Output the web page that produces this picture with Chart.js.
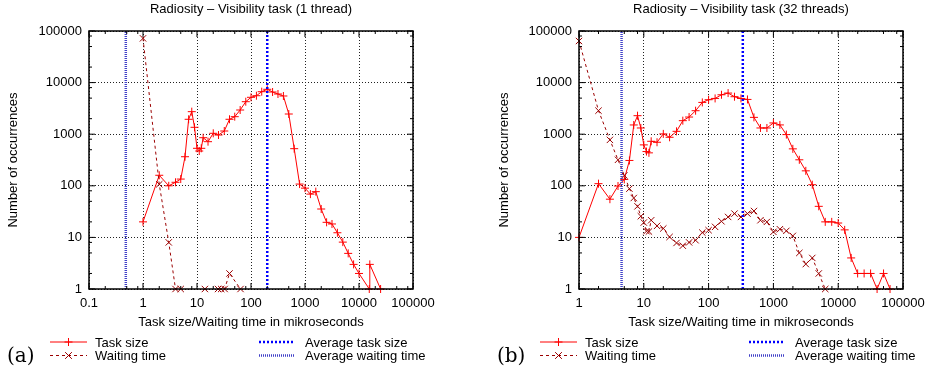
<!DOCTYPE html>
<html>
<head>
<meta charset="utf-8">
<script src="https://cdn.jsdelivr.net/npm/chart.js@4.4.1/dist/chart.umd.min.js"></script>
<style>
  html, body { margin: 0; padding: 0; background: #fff; }
  #wrap { position: relative; width: 935px; height: 376px; overflow: hidden; }
  canvas { position: absolute; top: 0; }
</style>
</head>
<body>
<div id="wrap">
  <canvas id="chartA" width="467" height="376" style="left:0"></canvas>
  <canvas id="chartB" width="468" height="376" style="left:467px"></canvas>
</div>
<script>
// ---- data ----
const titleA = 'Radiosity – Visibility task (1 thread)';
const titleB = 'Radiosity – Visibility task (32 threads)';
const xLabel = 'Task size/Waiting time in mikroseconds';
const yLabel = 'Number of occurrences';
const legendLabels = ['Task size', 'Waiting time', 'Average task size', 'Average waiting time'];

const xTicksA = [0.1, 1, 10, 100, 1000, 10000, 100000];
const xTicksB = [1, 10, 100, 1000, 10000, 100000];
const yTicks = [1, 10, 100, 1000, 10000, 100000];

// (a) 1 thread
const taskA_x = [1, 2, 3, 4, 5, 6, 7, 8, 9, 10, 11, 12, 13, 16, 20, 25, 32, 40, 50, 63, 80, 100,
  126, 158, 200, 251, 316, 398, 501, 631, 794, 1000, 1259, 1585, 1995, 2512, 3162, 3981, 5012,
  6310, 7943, 10000, 15500, 15849, 25119];
const taskA_y = [20, 160, 100, 117, 135, 366, 1945, 2733, 1360, 533, 472, 533, 855, 716, 1041, 964,
  1153, 1945, 2186, 2944, 4265, 5188, 5572, 6665, 7415, 6571, 6012, 5500, 2462, 524, 108, 90, 69,
  77, 35.5, 19.6, 18.2, 12.3, 8.1, 4.9, 3, 2, 1, 3, 1];
const waitA_x = [1, 2, 3, 4, 5, 8, 14, 20, 24.5, 28, 32.5, 40, 64];
const waitA_y = [72000, 107, 8, 1, 1, null, 1, null, 1, 1, 1, 2, 1];
const avgTaskA = 200;
const avgWaitA = 0.48;

// (b) 32 threads
const taskB_x = [1, 2, 3, 4, 5, 6, 7, 8, 9, 10, 11, 12, 13, 16, 20, 25, 32, 40, 50, 63, 80, 100,
  126, 158, 200, 251, 316, 398, 501, 631, 794, 1000, 1259, 1585, 1995, 2512, 3162, 3981, 5012,
  6310, 7943, 10000, 12589, 15849, 19953, 25119, 31623, 39811, 50119, 63096];
const taskB_y = [10, 110, 55, 99, 133, 310, 1510, 2285, 1320, 621, 461, 435, 729, 698, 1014, 871,
  1137, 1830, 2150, 2853, 4130, 4656, 4933, 5810, 6266, 5327, 4933, 4720, 2120, 1320, 1320, 1652,
  1512, 982, 520, 319, 195, 105, 40, 20, 20, 19, 14, 4, 2, 2, 2, 1, 2, 1];
const waitB_x = [1, 2, 3, 4, 5, 6, 7, 8, 9, 10, 11, 12, 13, 16, 20, 25, 32, 40, 50, 63, 80, 100,
  126, 158, 200, 251, 316, 398, 501, 631, 794, 1000, 1259, 1585, 1995, 2512, 3162, 3981, 5012, 6310];
const waitB_y = [64000, 2857, 776, 319, 159, 88, 58, 40, 25.7, 19.4, 13.2, 13, 21.5, 16.7, 14.9,
  10.2, 7.8, 6.9, 8, 8.8, 12.4, 13.8, 16, 20.5, 24.9, 28.9, 24.9, 28.9, 32.5, 21.5, 20, 12.8, 14.4,
  13.4, 10.7, 5, 3.04, 4, 2, 1];
const avgTaskB = 337;
const avgWaitB = 4.54;

// ---- styling ----
const FONT = "'Liberation Sans', Arial, Helvetica, sans-serif";
const styles = [
  { color: '#ff0000', width: 1, dash: [], marker: 'cross', r: 4 },
  { color: '#9b0000', width: 1, dash: [3, 3], marker: 'crossRot', r: 4.5 },
  { color: '#0000ff', width: 2.5, dash: [2, 2], marker: null },
  { color: '#4040c8', width: 2.5, dash: [1, 1], marker: null }
];

function pts(xs, ys) {
  return xs.map((x, i) => ({ x: x, y: ys[i] }));
}

function drawMarker(ctx, kind, x, y, r) {
  ctx.setLineDash([]);
  ctx.beginPath();
  if (kind === 'cross') {
    ctx.moveTo(x - r, y); ctx.lineTo(x + r, y);
    ctx.moveTo(x, y - r); ctx.lineTo(x, y + r);
  } else {
    const d = r * 0.75;
    ctx.moveTo(x - d, y - d); ctx.lineTo(x + d, y + d);
    ctx.moveTo(x - d, y + d); ctx.lineTo(x + d, y - d);
  }
  ctx.stroke();
}

// gnuplot style box with inward tics
const framePlugin = {
  id: 'frame',
  afterDatasetsDraw(chart) {
    const { ctx, chartArea: a, scales } = chart;
    const minors = [2, 5, 8];
    ctx.save();
    ctx.strokeStyle = '#000';
    ctx.lineWidth = 1;
    ctx.setLineDash([]);
    ctx.beginPath();
    ['x', 'y'].forEach(id => {
      const s = scales[id];
      for (let e = Math.round(Math.log10(s.min)); Math.pow(10, e) <= s.max * 1.0001; e++) {
        const d = Math.pow(10, e);
        const list = [[d, 6]];
        minors.forEach(m => { if (m * d < s.max) list.push([m * d, 3]); });
        list.forEach(([v, len]) => {
          const p = s.getPixelForValue(v);
          if (id === 'x') {
            ctx.moveTo(p, a.bottom); ctx.lineTo(p, a.bottom - len);
            ctx.moveTo(p, a.top); ctx.lineTo(p, a.top + len);
          } else {
            ctx.moveTo(a.left, p); ctx.lineTo(a.left + len, p);
            ctx.moveTo(a.right, p); ctx.lineTo(a.right - len, p);
          }
        });
      }
    });
    ctx.stroke();
    ctx.lineWidth = 1.5;
    ctx.strokeRect(a.left, a.top, a.right - a.left, a.bottom - a.top);
    ctx.restore();
  }
};

// two-column legend under the axis title plus the (a)/(b) tag
const legendPlugin = {
  id: 'panelLegend',
  afterDraw(chart, args, opts) {
    const { ctx, chartArea: a } = chart;
    const rows = [342, 355.5];
    const cols = [
      { x0: a.left - 39, x1: a.left - 2, tx: a.left + 6 },
      { x0: a.left + 170, x1: a.left + 205, tx: a.left + 216 }
    ];
    ctx.save();
    legendLabels.forEach((label, i) => {
      const c = cols[Math.floor(i / 2)];
      const y = rows[i % 2];
      const st = styles[i];
      ctx.strokeStyle = st.color;
      ctx.lineWidth = st.width;
      ctx.setLineDash(st.dash);
      ctx.beginPath();
      ctx.moveTo(c.x0, y); ctx.lineTo(c.x1, y);
      ctx.stroke();
      if (st.marker) {
        ctx.lineWidth = 1;
        drawMarker(ctx, st.marker, (c.x0 + c.x1) / 2, y, st.r);
      }
      ctx.fillStyle = '#000';
      ctx.font = '13px ' + FONT;
      ctx.textBaseline = 'middle';
      ctx.textAlign = 'left';
      ctx.fillText(label, c.tx, y + 1);
    });
    ctx.font = "20px 'DejaVu Serif', serif";
    ctx.textBaseline = 'middle';
    ctx.fillText(opts.tag, a.left - 82, 357);
    ctx.restore();
  }
};

function makePanel(id, cfg) {
  const ds = [
    { data: pts(cfg.taskX, cfg.taskY), s: styles[0] },
    { data: pts(cfg.waitX, cfg.waitY), s: styles[1] },
    { data: [{ x: cfg.avgTask, y: 1 }, { x: cfg.avgTask, y: 100000 }], s: styles[2] },
    { data: [{ x: cfg.avgWait, y: 1 }, { x: cfg.avgWait, y: 100000 }], s: styles[3] }
  ].map((d, i) => ({
    label: legendLabels[i],
    data: d.data,
    borderColor: d.s.color,
    borderWidth: d.s.width,
    borderDash: d.s.dash,
    pointStyle: d.s.marker || false,
    pointRadius: d.s.marker ? d.s.r : 0,
    pointBorderColor: d.s.color,
    pointBorderWidth: 1,
    backgroundColor: d.s.color,
    fill: false,
    tension: 0,
    spanGaps: false,
    clip: false,
    order: i < 2 ? 2 - i : 0
  }));

  const tickFont = { family: FONT, size: 13 };
  return new Chart(document.getElementById(id), {
    type: 'line',
    data: { datasets: ds },
    options: {
      responsive: false,
      animation: false,
      events: [],
      layout: { padding: { left: 0, right: cfg.padRight, top: 0, bottom: 0 } },
      plugins: {
        legend: { display: false },
        tooltip: { enabled: false },
        title: {
          display: true,
          text: cfg.title,
          fullSize: false,
          color: '#000',
          font: { family: FONT, size: 13, weight: 'normal' },
          padding: { top: 2, bottom: 13.4 }
        },
        panelLegend: { tag: cfg.tag }
      },
      scales: {
        x: {
          type: 'logarithmic',
          min: cfg.xTicks[0],
          max: 100000,
          afterBuildTicks: s => { s.ticks = cfg.xTicks.map(v => ({ value: v })); },
          afterFit: s => { s.height = 87; },
          ticks: {
            font: tickFont, color: '#000', padding: 7,
            maxRotation: 0, autoSkip: false,
            callback: v => String(v)
          },
          grid: { color: '#222', lineWidth: 1, drawTicks: false, tickLength: 0, borderDash: [1, 2] },
          border: { display: false, dash: [1, 2] },
          title: {
            display: true, text: xLabel, color: '#000',
            font: { family: FONT, size: 13 },
            padding: { top: 0, bottom: 46 }
          }
        },
        y: {
          type: 'logarithmic',
          min: 1,
          max: 100000,
          afterBuildTicks: s => { s.ticks = yTicks.map(v => ({ value: v })); },
          afterFit: s => { s.width = cfg.yWidth; },
          ticks: {
            font: tickFont, color: '#000', padding: 7,
            callback: v => String(v)
          },
          grid: { color: '#222', lineWidth: 1, drawTicks: false, tickLength: 0, borderDash: [1, 2] },
          border: { display: false, dash: [1, 2] },
          title: {
            display: true, text: yLabel, color: '#000',
            font: { family: FONT, size: 13 },
            padding: { top: cfg.yTitlePad, bottom: 0 }
          }
        }
      }
    },
    plugins: [framePlugin, legendPlugin]
  });
}

makePanel('chartA', {
  title: titleA, tag: '(a)', xTicks: xTicksA,
  taskX: taskA_x, taskY: taskA_y, waitX: waitA_x, waitY: waitA_y,
  avgTask: avgTaskA, avgWait: avgWaitA,
  yWidth: 89, yTitlePad: 6, padRight: 54
});
makePanel('chartB', {
  title: titleB, tag: '(b)', xTicks: xTicksB,
  taskX: taskB_x, taskY: taskB_y, waitX: waitB_x, waitY: waitB_y,
  avgTask: avgTaskB, avgWait: avgWaitB,
  yWidth: 112, yTitlePad: 30, padRight: 32
});
</script>
</body>
</html>
